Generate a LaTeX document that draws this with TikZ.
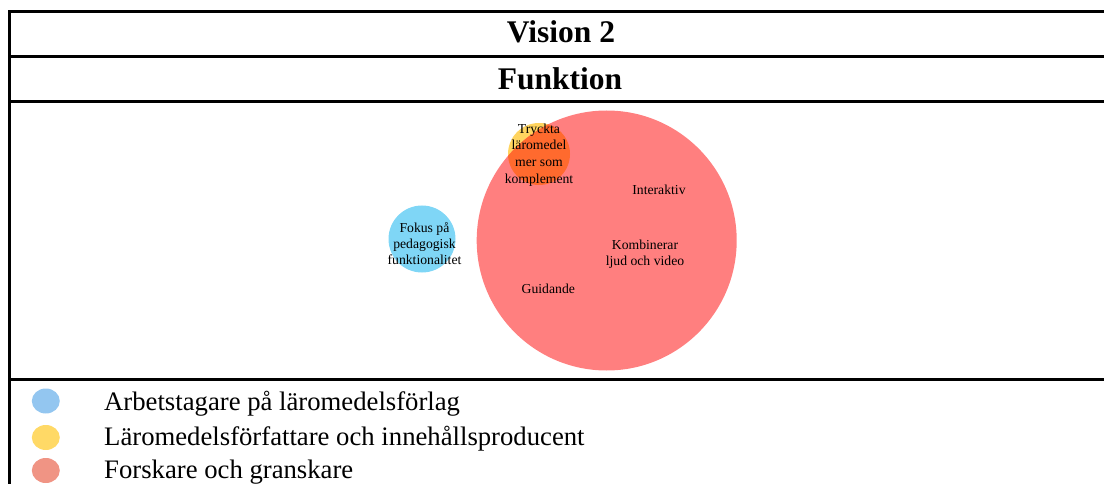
\documentclass[tikz,border=0pt]{standalone}
\usepackage{fontspec}
\setmainfont{Liberation Serif}
\usetikzlibrary{shapes.geometric}
\definecolor{bigred}{HTML}{FF7F7F}
\definecolor{bubblue}{HTML}{7FD6F6}
\definecolor{bubyellow}{HTML}{FFD45F}
\definecolor{overlap}{HTML}{FF6A2E}
\definecolor{legblue}{HTML}{93C6F0}
\definecolor{legyellow}{HTML}{FFD966}
\definecolor{legred}{HTML}{F09484}
\begin{document}
\begin{tikzpicture}[x=1pt,y=-1pt,
  rule/.style={line width=3pt,line join=miter},
  headtext/.style={anchor=base,inner sep=0pt,font=\fontsize{31.5}{37}\selectfont\bfseries},
  bubble/.style={circle,draw=none,inner sep=0pt,minimum size=#1},
  bubtext/.style={align=center,inner sep=0pt,font=\fontsize{13.7}{16}\selectfont},
  legdot/.style={ellipse,draw=none,minimum width=28pt,minimum height=25pt,inner sep=0pt},
  legtext/.style={anchor=base west,inner sep=0pt,font=\fontsize{26.7}{32}\selectfont}]
\useasboundingbox (0,0) rectangle (1104,484);

% table frame
\draw[rule] (9.5,486) -- (9.5,11.5) -- (1106,11.5);
\draw[rule] (8,56.5) -- (1106,56.5);
\draw[rule] (8,101.5) -- (1106,101.5);
\draw[rule] (8,379.5) -- (1106,379.5);

% headings
\node[headtext] (title) at (561,42.5) {Vision 2};
\node[headtext] (func) at (560,90) {Funktion};

% bubbles
\node[bubble=62pt,fill=bubyellow] (yellow) at (539,154) {};
\node[bubble=260pt,fill=bigred] (red) at (606.7,240.5) {};
\node[bubble=67pt,fill=bubblue] (blue) at (422,239) {};
\begin{scope}
  \clip (606.7,240.5) circle (130);
  \fill[overlap] (539,154) circle (31);
\end{scope}

% bubble labels
\node[bubtext,font=\fontsize{13.7}{16.7}\selectfont] (tryck) at (539,155) {Tryckta\\läromedel\\mer som\\komplement};
\node[bubtext] (fokus) at (424.5,244) {Fokus på\\pedagogisk\\funktionalitet};
\node[bubtext] (inter) at (659,190) {Interaktiv};
\node[bubtext] (komb) at (645,254.5) {Kombinerar\\ljud och video};
\node[bubtext] (guide) at (548.3,289) {Guidande};

% legend
\node[legdot,fill=legblue] (lb) at (45.8,401) {};
\node[legdot,fill=legyellow] (ly) at (45.8,437.5) {};
\node[legdot,fill=legred] (lr) at (45.8,470.5) {};
\node[legtext] (tb) at (104,410) {Arbetstagare på läromedelsförlag};
\node[legtext] (ty) at (104,445.5) {Läromedelsförfattare och innehållsproducent};
\node[legtext] (tr) at (104,478.5) {Forskare och granskare};
\end{tikzpicture}
\end{document}
